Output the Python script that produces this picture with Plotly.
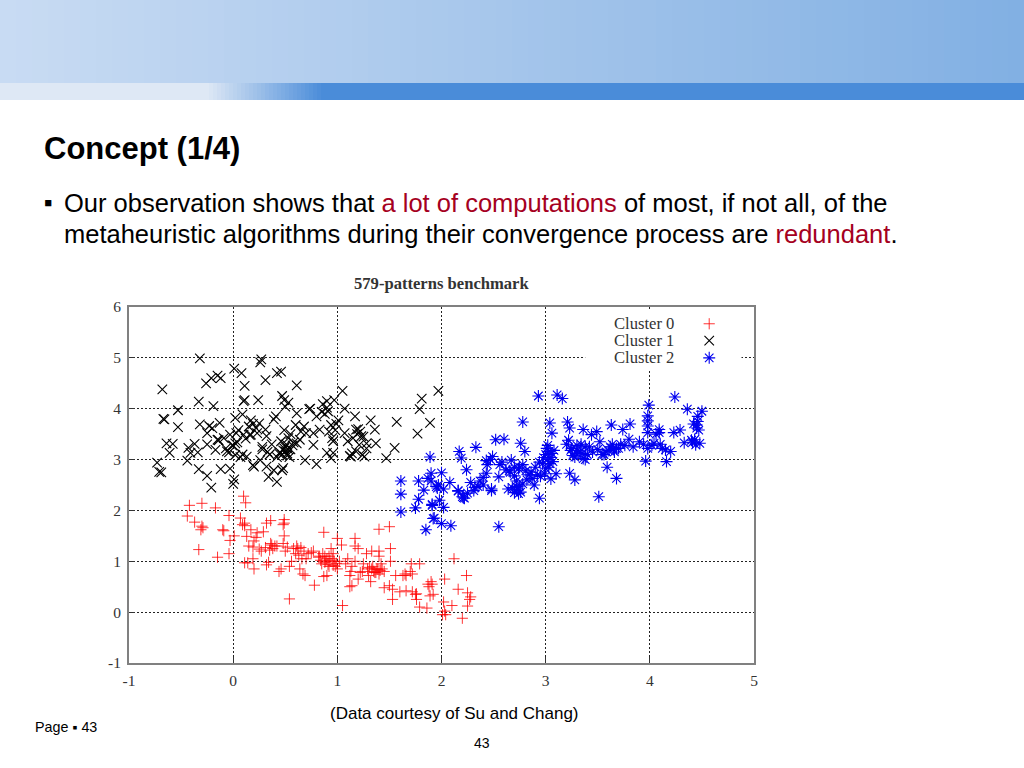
import plotly.graph_objects as go

PAGE_W, PAGE_H = 1024, 768
PLOT_L, PLOT_R, PLOT_T, PLOT_B = 129, 754, 307, 663

cluster0_x = [-.42,-.30,-.17,.10,.12,-.44,-.37,-.30,-.31,-.29,-.33,-.15,-.04,-.04,-.10,-.09,-.03,.01,.07,.09,.11,.11,.17,.13,.23,.15,.19,.22,.20,.14,.11,.19,.20,.32,.34,.29,.32,.36,.31,.36,.38,.40,.35,.37,.44,.46,.49,.48,.49,.49,.52,.50,.54,.48,.61,.62,.65,.63,.66,.64,.67,.69,.68,.72,.75,.78,.77,.54,.87,.86,.88,.90,.83,.85,.87,.90,.92,.94,.96,.95,.97,1.00,.98,1.00,1.04,1.02,1.05,1.08,1.10,1.13,1.12,1.12,1.14,1.17,1.17,1.20,1.14,1.17,1.20,1.25,1.28,1.30,1.32,1.29,1.33,1.35,1.33,1.40,1.40,1.40,1.42,1.40,1.45,1.43,1.38,1.50,1.51,1.51,1.45,1.50,1.53,1.53,1.56,1.60,1.63,1.65,1.66,1.66,1.72,1.75,1.76,1.70,1.71,1.72,1.79,1.76,1.79,1.86,1.87,1.88,1.90,1.89,1.92,1.91,2.03,2.02,2.01,2.04,2.03,2.10,2.12,2.16,2.20,2.24,2.25,2.28,2.25,2.27,.82,.84,.88,.91,.93,.96,.99,.92,.89,1.34,1.37,1.39,1.36,1.41,1.31,1.24,1.22,.58,.60,.70,.56,.42,.27,.25]
cluster0_y = [2.10,2.14,2.05,2.28,2.15,1.89,1.77,1.69,1.62,1.66,1.23,1.08,1.15,1.90,1.62,1.60,1.41,1.50,1.85,1.72,1.75,1.70,1.62,1.49,1.56,1.30,1.28,1.47,1.40,.97,.97,1.05,.85,.93,.98,1.58,1.75,1.80,1.27,1.35,1.25,1.30,1.22,1.32,.80,.85,1.75,1.72,1.82,1.50,1.28,1.20,.90,1.35,1.30,1.25,1.27,1.12,1.05,.85,.75,.72,1.20,1.15,1.17,.53,1.20,.26,1.57,1.15,1.10,1.05,1.10,.95,.70,.72,.90,1.25,1.15,1.05,1.00,.85,.90,1.45,1.32,1.00,.13,.95,1.05,.80,.72,.50,.52,1.45,1.30,1.25,.90,1.00,.65,.95,1.15,.72,.60,.85,.85,.80,1.20,1.63,1.20,1.10,.95,.75,.80,.85,.85,1.68,1.25,1.00,.48,.52,.45,.25,.72,.40,.72,.75,.72,.42,.40,.35,.36,.80,.95,.75,.95,.25,.10,.08,.55,.50,.60,.32,.35,.55,.65,.20,-.05,-.05,.02,.13,1.05,.45,-.12,.72,.38,.30,.12,.25,1.08,1.02,.98,.94,1.02,.92,.96,1.10,1.00,.90,.78,.84,.78,.82,.88,.80,.78,1.25,1.15,1.05,1.00,1.30,1.20,1.24]

cluster1_x = [-.32,-.68,-.53,-.67,-.66,-.53,-.33,-.19,-.26,-.21,-.15,-.12,.01,.08,.11,.10,.11,.24,.26,.27,.31,.42,.46,.61,.47,.49,.53,.50,1.05,.97,.90,.86,.91,.90,1.07,.73,1.17,1.32,1.36,1.01,.80,.61,.41,.39,.09,.02,.17,.25,-.13,-.32,-.23,-.25,1.57,1.77,1.89,1.79,1.81,1.97,1.55,1.47,1.37,1.28,-.73,-.71,-.69,-.61,-.64,-.58,-.44,-.43,-.37,-.34,-.41,-.33,-.25,-.21,-.12,.01,0,-.04,-.06,-.17,-.15,-.09,-.03,.03,.02,.10,.17,.23,.31,.32,.07,.02,.13,.20,.19,.26,.32,.34,.39,.42,.48,.47,.69,.80,.90,.94,.96,1.13,1.12,1.18,1.24,1.26,1.21,1.23,1.18,1.07,.95,.96,.77,.83,.77,.70,.64,.61,.50,.47,.49,.51,.52,.53,.54,.48,.50,.46,.45,.52,.55,.57,.44,.42,.55,.49,.53,.58,.35,.37,.33,.28,.22,.16,.12,.05,-.01,-.07,-.14,-.20,-.25,.92,.94,.98,.88,.85,.74,.68,.65,.60,1.20,1.22,1.25,1.19,1.15,1.10,1.28,1.14,.99,.04,.00,.09,.15,.19,.28,-.03]
cluster1_y = [4.99,4.38,3.97,3.80,3.79,3.64,4.14,4.05,4.50,4.60,4.65,4.60,4.79,4.70,4.45,4.15,4.17,4.17,4.91,4.97,4.56,4.70,4.73,4.46,4.25,4.17,4.12,4.04,4.35,4.17,4.15,4.09,3.95,4.02,4.00,3.99,3.85,3.77,3.59,3.77,3.85,3.91,3.85,3.79,3.89,3.82,3.77,3.71,3.72,3.69,3.66,3.52,3.74,3.51,3.72,3.99,4.20,4.35,3.23,3.03,3.32,3.32,2.94,2.76,2.75,3.13,3.32,3.31,2.98,3.23,3.31,3.14,3.13,2.81,2.68,2.45,2.81,2.61,2.52,3.14,3.16,3.19,3.39,3.42,3.49,3.52,3.32,3.49,3.49,3.52,3.59,3.46,3.05,3.09,3.06,2.86,2.89,2.99,2.86,2.66,2.79,2.56,2.83,2.79,2.99,2.91,3.13,3.03,3.13,3.06,3.07,3.16,3.09,3.06,3.29,3.46,3.59,3.52,3.42,3.36,3.29,3.59,3.52,3.52,3.39,3.32,3.16,3.10,3.22,3.30,3.12,3.42,3.05,3.18,3.25,3.36,3.14,3.08,3.20,3.28,3.12,3.05,3.50,3.58,3.20,3.34,3.10,3.30,3.15,3.25,3.62,3.48,3.41,3.58,3.28,3.22,3.38,3.62,3.30,3.55,3.68,3.58,3.90,3.94,4.00,3.65,3.55,3.68,3.60,3.55,3.45,3.50,3.42,3.36,3.22,3.12,3.70,3.34,3.28,3.10,3.65,3.70,3.20,2.82,2.92,3.08,3.26]

cluster2_x = [2.93,3.11,3.16,4.24,3.99,4.36,4.50,2.78,3.04,3.06,3.21,3.23,3.63,3.81,3.74,3.49,3.36,3.44,2.52,2.33,2.17,2.19,2.24,1.89,2.00,1.90,1.87,1.95,2.76,2.80,2.67,3.98,3.98,3.98,3.98,4.09,4.09,4.23,4.29,4.46,4.46,4.45,4.33,4.43,4.44,4.41,4.04,4.15,4.20,3.96,4.16,3.59,3.68,3.51,3.23,3.28,2.94,3.05,2.72,2.64,2.75,2.70,2.48,2.35,2.31,2.22,2.20,2.16,2.55,2.43,2.40,2.37,2.49,2.43,2.56,2.65,2.75,2.81,2.89,2.87,2.95,2.55,1.91,2.02,1.92,1.85,2.00,2.09,1.61,1.61,1.61,1.78,1.78,1.75,1.91,1.93,1.90,1.97,2.16,2.21,2.32,2.48,3.00,3.02,3.04,3.06,3.01,3.03,3.05,3.07,2.98,2.97,3.00,3.03,3.08,3.10,3.02,2.99,2.94,3.20,3.24,3.28,3.30,3.33,3.36,3.38,3.40,3.22,3.26,3.30,3.34,3.38,3.25,3.30,3.35,3.42,3.45,3.50,3.54,3.58,3.62,3.64,3.66,3.68,3.52,3.56,3.60,3.65,3.70,3.72,3.76,3.80,3.84,3.90,3.94,3.98,4.02,4.06,4.10,4.12,4.40,4.42,4.45,4.47,4.48,2.60,2.58,2.62,2.66,2.70,2.74,2.78,2.84,2.86,2.90,2.92,2.82,2.72,2.68,1.83,1.96,1.98,2.02,2.08,2.25,2.28,2.40,2.44,2.47,2.70,2.72,2.74,2.76,2.78]
cluster2_y = [4.25,4.27,4.20,4.23,4.07,3.99,3.95,3.74,3.72,3.52,3.74,3.62,3.68,3.70,3.59,3.55,3.59,3.49,3.39,3.24,3.16,3.03,2.80,3.05,2.74,2.73,2.63,2.47,3.32,3.16,2.99,3.86,3.76,3.66,3.53,3.53,3.59,3.53,3.58,3.85,3.75,3.68,3.33,3.39,3.29,3.34,3.32,3.19,3.16,2.97,2.96,2.85,2.63,2.27,2.73,2.60,2.24,2.62,2.47,2.42,2.48,2.35,2.39,2.47,2.39,2.24,2.27,2.39,2.66,2.73,2.65,2.58,3.06,2.98,2.90,2.78,2.85,2.78,2.50,2.63,2.67,1.68,2.10,2.06,1.84,1.62,1.74,1.70,2.58,2.32,1.97,2.58,2.22,2.05,2.12,1.85,2.58,2.50,2.38,2.25,2.45,2.42,3.10,3.00,2.92,3.12,3.22,3.16,3.04,2.96,3.04,2.92,2.82,2.85,3.18,2.72,3.28,2.72,2.95,3.30,3.18,3.05,3.28,3.15,3.02,3.25,3.10,3.38,3.08,3.12,3.30,3.00,3.22,3.18,3.12,3.25,3.15,3.20,3.10,3.15,3.25,3.30,3.15,3.22,3.35,3.10,3.18,3.20,3.22,3.30,3.28,3.40,3.25,3.35,3.30,3.22,3.28,3.50,3.30,3.22,3.38,3.70,3.62,3.58,3.32,3.40,2.95,2.80,2.75,2.68,2.82,2.90,2.70,2.75,2.85,2.70,2.60,2.58,2.45,2.40,2.44,2.20,2.42,2.55,2.34,2.55,2.50,2.90,3.00,2.85,2.40,2.33,2.36,2.52,2.45]

clusters = [("Cluster 0", cluster0_x, cluster0_y, "#FF0000", "cross-thin", 8, 0.8),
            ("Cluster 1", cluster1_x, cluster1_y, "#000000", "x-thin", 9.5, 1.1),
            ("Cluster 2", cluster2_x, cluster2_y, "#0000F0", "asterisk", 10, 1.1)]

x_ticks = [-1, 0, 1, 2, 3, 4, 5]
y_ticks = [-1, 0, 1, 2, 3, 4, 5, 6]
LEGEND_KEY_X = 4.57
LEGEND_ROWS_Y = [5.67, 5.34, 5.0]

fig = go.Figure()
for (name, xs, ys, color, symbol, size, lw), row_y in zip(clusters, LEGEND_ROWS_Y):
    fig.add_trace(go.Scatter(x=xs, y=ys, mode="markers", name=name, showlegend=False,
                             marker=dict(symbol=symbol, size=size, color=color,
                                         line=dict(color=color, width=lw))))
    fig.add_trace(go.Scatter(x=[LEGEND_KEY_X], y=[row_y], mode="markers", name=name + " key",
                             showlegend=False, hoverinfo="skip",
                             marker=dict(symbol=symbol, size=size, color=color,
                                         line=dict(color=color, width=lw))))

def px_x(v):
    return (v - PLOT_L) / (PLOT_R - PLOT_L)

def px_y(v):
    return (PLOT_B - v) / (PLOT_B - PLOT_T)

shapes = []
N = 64
c0, c1 = (0xC8, 0xDB, 0xF3), (0x82, 0xB0, 0xE3)
for i in range(N):
    t = i / (N - 1)
    col = "rgb(%d,%d,%d)" % tuple(round(a + (b - a) * t) for a, b in zip(c0, c1))
    shapes.append(dict(type="rect", xref="paper", yref="paper", layer="below", line_width=0,
                       x0=px_x(PAGE_W * i / N), x1=px_x(PAGE_W * (i + 1) / N + 1),
                       y0=px_y(83), y1=px_y(0), fillcolor=col))
a0, a1 = (0xDE, 0xE8, 0xF5), (0x4A, 0x8C, 0xD9)
shapes.append(dict(type="rect", xref="paper", yref="paper", layer="below", line_width=0,
                   x0=px_x(0), x1=px_x(205), y0=px_y(100), y1=px_y(83), fillcolor="rgb(222,232,245)"))
for i in range(30):
    t = i / 29
    col = "rgb(%d,%d,%d)" % tuple(round(a + (b - a) * t) for a, b in zip(a0, a1))
    shapes.append(dict(type="rect", xref="paper", yref="paper", layer="below", line_width=0,
                       x0=px_x(205 + i * 4), x1=px_x(205 + i * 4 + 5),
                       y0=px_y(100), y1=px_y(83), fillcolor=col))
shapes.append(dict(type="rect", xref="paper", yref="paper", layer="below", line_width=0,
                   x0=px_x(325), x1=px_x(PAGE_W), y0=px_y(100), y1=px_y(83), fillcolor="rgb(74,140,217)"))
shapes.append(dict(type="rect", xref="x", yref="y", layer="between", line_width=0,
                   x0=3.38, x1=4.88, y0=4.75, y1=5.93, fillcolor="white"))

FONT = "Liberation Sans"
SERIF = "Liberation Serif"
def note(text, x, y, size, color="#000000", family=FONT, anchor="left"):
    return dict(text=text, xref="paper", yref="paper", x=px_x(x), y=px_y(y), showarrow=False,
                xanchor=anchor, yanchor="middle", align=anchor,
                font=dict(family=family, size=size, color=color))

RED = "#A50021"
annotations = [
    note("<b>Concept (1/4)</b>", 42, 148, 31),
    note("▪", 42, 202, 25),
    note('Our observation shows that <span style="color:%s">a lot of computations</span> of most, if not all, of the' % RED, 62, 203, 25.5),
    note('metaheuristic algorithms during their convergence process are <span style="color:%s">redundant</span>.' % RED, 62, 234, 25.5),
    note("<b>579-patterns benchmark</b>", 441, 283, 16.6, "#333333", SERIF, "center"),
    note("(Data courtesy of Su and Chang)", 455, 713, 17, "#000000", FONT, "center"),
    note("Page ▪ 43", 33, 727, 14.3),
    note("43", 482, 743, 14, "#000000", FONT, "center"),
]
for (name, *_), row_y in zip(clusters, LEGEND_ROWS_Y):
    annotations.append(dict(text=name, xref="paper", yref="y", x=px_x(612), y=row_y, showarrow=False,
                            xanchor="left", yanchor="middle",
                            font=dict(family=SERIF, size=16.6, color="#333333")))

axis = dict(showgrid=True, gridcolor="#222222", griddash="2px,2px", gridwidth=1, zeroline=False,
            showline=True, linecolor="#808080", linewidth=2, mirror=True,
            ticks="inside", ticklen=6, tickcolor="#333333",
            tickfont=dict(family=SERIF, size=15.5, color="#333333"))

fig.update_layout(width=PAGE_W, height=PAGE_H, autosize=False, paper_bgcolor="white", plot_bgcolor="white",
                  margin=dict(l=PLOT_L, r=PAGE_W - PLOT_R, t=PLOT_T, b=PAGE_H - PLOT_B, pad=0),
                  showlegend=False, shapes=shapes, annotations=annotations,
                  xaxis=dict(range=[-1, 5], tickmode="array", tickvals=x_ticks,
                             ticktext=[str(v) for v in x_ticks], ticklabelstandoff=2, **axis),
                  yaxis=dict(range=[-1, 6], tickmode="array", tickvals=y_ticks,
                             ticktext=[str(v) for v in y_ticks], ticklabelstandoff=3, **axis))

fig.write_html("out.html", config={"displayModeBar": False},
               post_script="document.body.style.margin='0';")
